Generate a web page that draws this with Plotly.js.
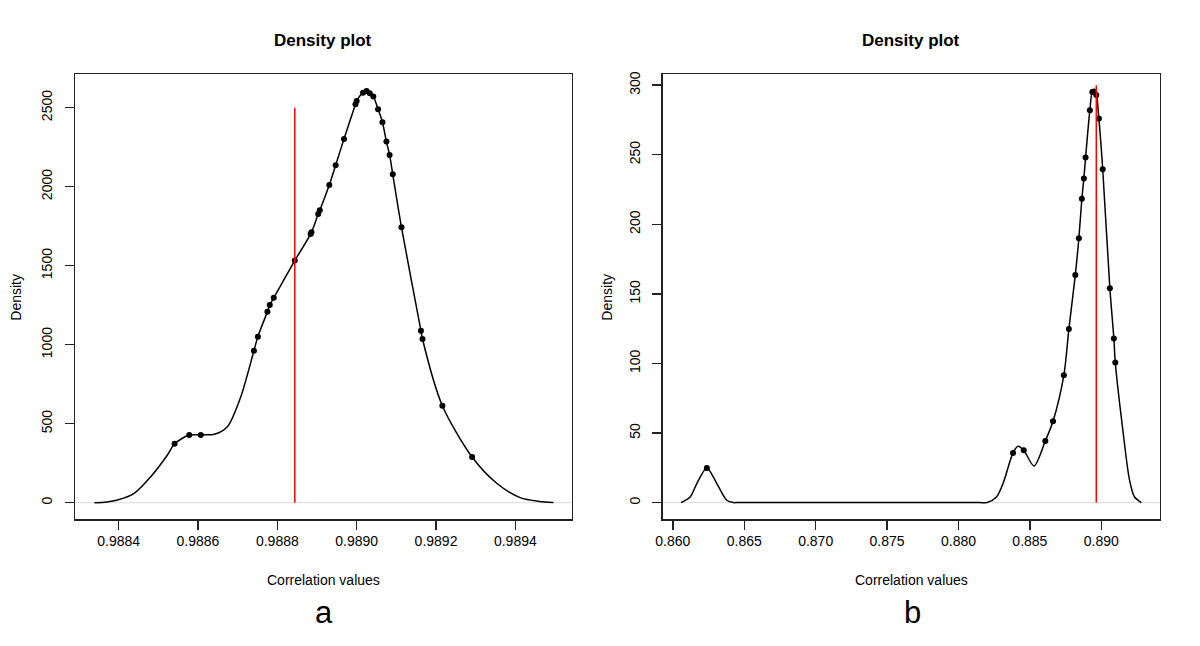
<!DOCTYPE html>
<html>
<head>
<meta charset="utf-8">
<script src="https://cdn.plot.ly/plotly-3.0.1.min.js"></script>
<style>html,body{margin:0;padding:0;background:#fff;}#chart{width:1200px;height:646px;}</style>
</head>
<body>
<div id="chart"></div>
<script>
// Panel a: density curve
const curveAx = [0.988339,0.988370,0.988397,0.988439,0.988481,0.988523,0.988541,0.988578,0.988607,0.988641,0.988674,0.988708,0.988741,0.988751,0.988775,0.988781,0.988791,0.988844,0.988886,0.988903,0.988907,0.988931,0.988947,0.988968,0.988997,0.989000,0.989016,0.989025,0.989033,0.989042,0.989054,0.989065,0.989075,0.989083,0.989091,0.989113,0.989162,0.989166,0.989216,0.989291,0.989353,0.989412,0.989460,0.989496];
const curveAy = [0,5,17,59,165,302,373,428,430,433,481,671,962,1051,1209,1251,1297,1532,1711,1827,1851,2011,2135,2302,2521,2542,2595,2606,2591,2570,2490,2408,2285,2201,2078,1743,1089,1036,614,289,123,32,8,2];
// Panel a: observed points
const dotsAx = [0.988541,0.988578,0.988607,0.988741,0.988751,0.988775,0.988781,0.988791,0.988844,0.988884,0.988886,0.988903,0.988907,0.988931,0.988947,0.988968,0.988997,0.989000,0.989016,0.989025,0.989033,0.989042,0.989054,0.989065,0.989075,0.989083,0.989091,0.989113,0.989162,0.989166,0.989216,0.989291];
const dotsAy = [373,428,428,962,1051,1209,1251,1297,1532,1700,1711,1827,1851,2011,2135,2302,2521,2542,2595,2606,2591,2570,2490,2408,2285,2201,2078,1743,1089,1036,614,289];
const refAx = [0.988844,0.988844];
const refAy = [0,2500];
const ticksAx = [0.9884,0.9886,0.9888,0.9890,0.9892,0.9894];
const tickLabelsAx = ["0.9884","0.9886","0.9888","0.9890","0.9892","0.9894"];
const ticksAy = [0,500,1000,1500,2000,2500];

// Panel b: density curve
const curveBx = [0.86058,0.86121,0.86168,0.86238,0.86308,0.86378,0.86424,0.86450,0.86500,0.87000,0.87500,0.88100,0.88150,0.88200,0.88266,0.88312,0.88382,0.88417,0.88457,0.88529,0.88608,0.88662,0.88738,0.88773,0.88818,0.88843,0.88864,0.88878,0.88890,0.88920,0.88937,0.88948,0.88965,0.88983,0.89010,0.89060,0.89088,0.89098,0.89151,0.89198,0.89233,0.89280];
const curveBy = [0,4,13.7,24.9,13.7,1.7,0,0,0,0,0,0,0,0,4,13.7,35.7,40.5,37.6,26.3,44.3,58.5,91.6,124.7,163.5,190,218.4,233,248,282,295,295.4,293,276,239.6,154,118,100.7,52,16,4,0];
// Panel b: observed points
const dotsBx = [0.86238,0.88382,0.88457,0.88608,0.88662,0.88738,0.88773,0.88818,0.88843,0.88864,0.88878,0.88890,0.88920,0.88937,0.88948,0.88965,0.88983,0.89010,0.89060,0.89088,0.89098];
const dotsBy = [24.9,35.7,37.6,44.3,58.5,91.6,124.7,163.5,190,218.4,233,248,282,295,295.4,293,276,239.6,154,118,100.7];
const refBx = [0.88965,0.88965];
const refBy = [0,300];
const ticksBx = [0.860,0.865,0.870,0.875,0.880,0.885,0.890];
const tickLabelsBx = ["0.860","0.865","0.870","0.875","0.880","0.885","0.890"];
const ticksBy = [0,50,100,150,200,250,300];

const FONT = "Liberation Sans, Arial, Helvetica, sans-serif";
const AX = '#222';

function xax(domain, range, tv, tt) {
  return {domain: domain, range: range, tickvals: tv, ticktext: tt, ticks: 'outside', ticklen: 9,
    tickwidth: 1.5, tickcolor: AX, showline: true, mirror: true, linewidth: 1.5, linecolor: AX,
    showgrid: false, zeroline: false, tickfont: {family: FONT, size: 14, color: '#000'}, fixedrange: true};
}
function yax(range, tv, anchor) {
  return {domain: [0.19659, 0.88498], range: range, tickvals: tv, ticktext: tv.map(String), ticks: 'outside', ticklen: 9,
    tickwidth: 1.5, tickcolor: AX, showline: true, mirror: true, linewidth: 1.5, linecolor: AX,
    showgrid: false, zeroline: false, tickangle: -90, anchor: anchor, ticklabelstandoff: 7,
    tickfont: {family: FONT, size: 14, color: '#000'}, fixedrange: true};
}

const traces = [
  {x: curveAx, y: curveAy, mode: 'lines', line: {color: '#000', width: 1.5, shape: 'spline', smoothing: 0.8}, xaxis: 'x', yaxis: 'y', hoverinfo: 'skip'},
  {x: dotsAx, y: dotsAy, mode: 'markers', marker: {color: '#000', size: 6}, xaxis: 'x', yaxis: 'y'},
  {x: refAx, y: refAy, mode: 'lines', line: {color: '#ff0000', width: 1.5}, xaxis: 'x', yaxis: 'y'},
  {x: curveBx, y: curveBy, mode: 'lines', line: {color: '#000', width: 1.5, shape: 'spline', smoothing: 0.8}, xaxis: 'x2', yaxis: 'y2', hoverinfo: 'skip'},
  {x: dotsBx, y: dotsBy, mode: 'markers', marker: {color: '#000', size: 6}, xaxis: 'x2', yaxis: 'y2'},
  {x: refBx, y: refBy, mode: 'lines', line: {color: '#ff0000', width: 1.5}, xaxis: 'x2', yaxis: 'y2'}
];

function ann(text, x, y, size, extra) {
  return Object.assign({text: text, x: x, y: y, xref: 'paper', yref: 'paper', xanchor: 'center', yanchor: 'middle',
    showarrow: false, font: {family: FONT, size: size, color: '#000'}}, extra || {});
}

const layout = {
  width: 1200, height: 646, margin: {l: 0, r: 0, t: 0, b: 0},
  paper_bgcolor: '#fff', plot_bgcolor: '#fff', showlegend: false,
  font: {family: FONT, color: '#000'},
  xaxis: Object.assign(xax([0.0625, 0.4764], [0.98829, 0.989542], ticksAx, tickLabelsAx), {anchor: 'y'}),
  yaxis: yax([-103, 2711], ticksAy, 'x'),
  xaxis2: Object.assign(xax([0.55225, 0.96642], [0.85929, 0.89409], ticksBx, tickLabelsBx), {anchor: 'y2'}),
  yaxis2: yax([-11.8, 307.8], ticksBy, 'x2'),
  shapes: [
    {type: 'line', xref: 'x domain', yref: 'y', x0: 0, x1: 1, y0: 0, y1: 0, line: {color: '#d9d9d9', width: 1}, layer: 'below'},
    {type: 'line', xref: 'x2 domain', yref: 'y2', x0: 0, x1: 1, y0: 0, y1: 0, line: {color: '#d9d9d9', width: 1}, layer: 'below'}
  ],
  annotations: [
    ann('<b>Density plot</b>', 0.26944, 0.9376, 17),
    ann('<b>Density plot</b>', 0.75933, 0.9376, 17),
    ann('Correlation values', 0.26944, 0.1014, 14),
    ann('Correlation values', 0.75933, 0.1014, 14),
    ann('Density', 0.01333, 0.5407, 14, {textangle: -90}),
    ann('Density', 0.5058, 0.5407, 14, {textangle: -90}),
    ann('a', 0.27, 0.052, 31),
    ann('b', 0.76, 0.052, 31)
  ]
};

Plotly.newPlot('chart', traces, layout, {staticPlot: true, displayModeBar: false});
</script>
</body>
</html>
